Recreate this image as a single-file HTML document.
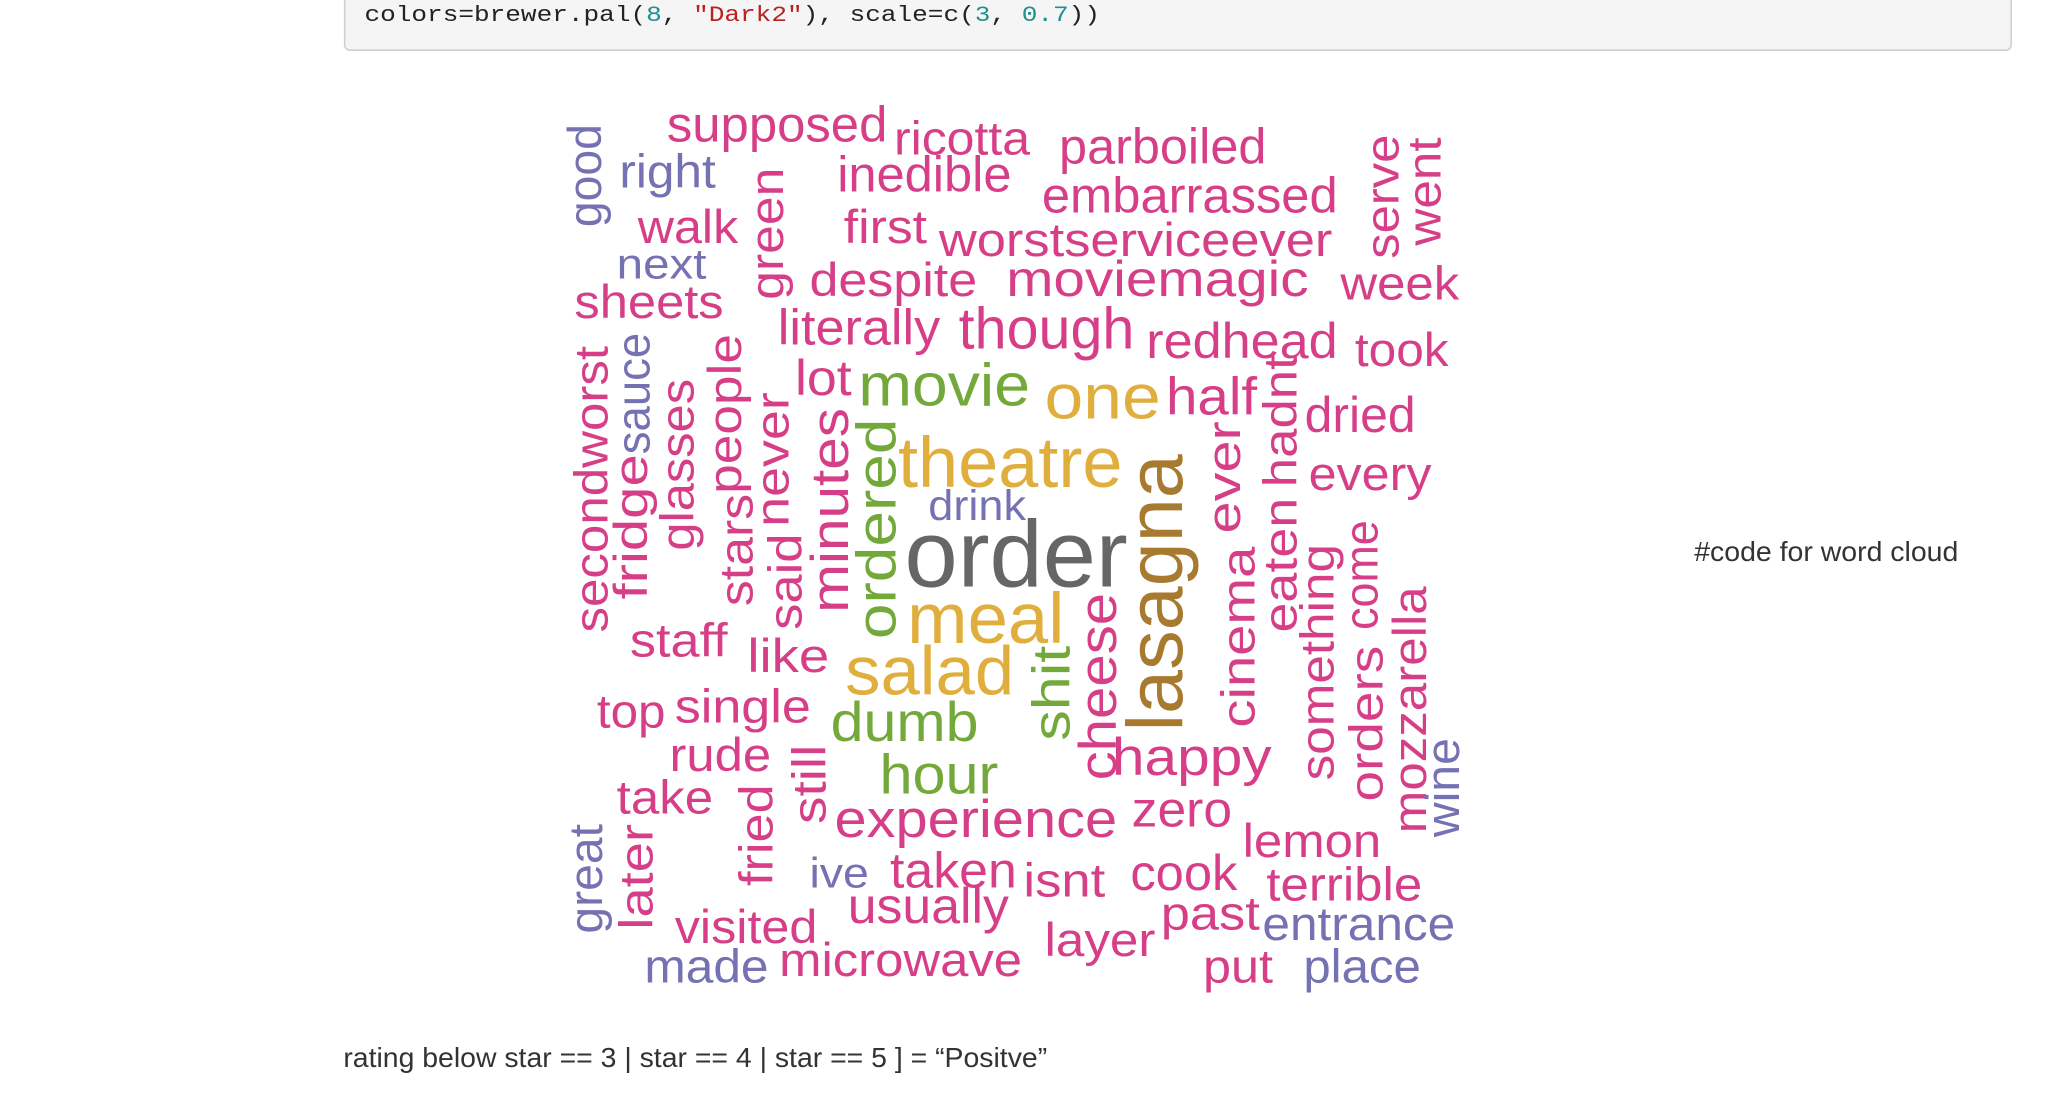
<!DOCTYPE html>
<html><head><meta charset="utf-8"><style>
html,body{margin:0;padding:0;background:#fff;}
svg{display:block;}
text{font-family:"Liberation Sans",Arial,sans-serif;}
.p{fill:#D63F87}.u{fill:#7472B2}.g{fill:#73A83A}.y{fill:#E0AE3C}.b{fill:#A77A2F}.k{fill:#666}
</style></head><body>
<svg width="2060" height="1094" viewBox="0 0 1560 828.5" preserveAspectRatio="none" xmlns="http://www.w3.org/2000/svg">
<rect x="261" y="-10" width="1262" height="48" rx="4" fill="#f5f5f5" stroke="#cfcfcf" stroke-width="1.2"/>
<text x="276" y="16" font-size="17" textLength="557" lengthAdjust="spacingAndGlyphs" style="font-family:'Liberation Mono',monospace" fill="#222">colors=brewer.pal(<tspan fill="#1f8f8f">8</tspan>, <tspan fill="#ba2121">"Dark2"</tspan>), scale=c(<tspan fill="#1f8f8f">3</tspan>, <tspan fill="#1f8f8f">0.7</tspan>))</text>
<text x="1283" y="425" font-size="21" textLength="200" lengthAdjust="spacingAndGlyphs" fill="#333">#code for word cloud</text>
<text x="260" y="808" font-size="21" textLength="533" lengthAdjust="spacingAndGlyphs" fill="#333">rating below star == 3 | star == 4 | star == 5 ] = “Positve”</text>
<g id="wc" transform="translate(-3,-1)"></g>
</svg>
<script>
var H=[
["supposed",508,675,108,38,"p"],["ricotta",680,783,118,36,"p"],["parboiled",805,962,125,38,"p"],
["right",472,545,143,36,"u"],["inedible",637,769,146,38,"p"],["embarrassed",792,1016,162,38,"p"],
["walk",486,562,185,36,"p"],["first",642,705,185,36,"p"],["worstserviceever",714,1012,195,36,"p"],
["next",470,538,212,32,"u"],["despite",616,743,225,36,"p"],["moviemagic",765,994,225,38,"p"],
["week",1018,1108,228,36,"p"],["sheets",438,551,242,36,"p"],["literally",592,715,262,38,"p"],
["though",729,862,265,44,"p"],["redhead",871,1016,272,38,"p"],["took",1029,1100,278,36,"p"],
["lot",605,648,300,38,"p"],["movie",653,783,308,46,"g"],["one",794,882,318,48,"y"],
["half",886,955,315,40,"p"],["dried",991,1075,328,38,"p"],["theatre",683,853,370,54,"y"],
["every",994,1087,372,36,"p"],["drink",706,780,395,32,"u"],["order",688,857,445,72,"k"],
["meal",690,809,488,54,"y"],["staff",480,554,498,36,"p"],["like",569,631,510,36,"p"],
["salad",643,771,527,52,"y"],["top",455,507,552,36,"p"],["single",514,617,548,36,"p"],
["dumb",632,744,562,42,"g"],["rude",510,587,585,36,"p"],["happy",845,966,588,40,"p"],
["hour",669,759,602,42,"g"],["take",470,543,617,36,"p"],["experience",635,849,635,40,"p"],
["zero",860,936,627,38,"p"],["lemon",944,1049,650,36,"p"],["ive",616,661,673,32,"u"],
["taken",677,773,673,38,"p"],["isnt",778,840,680,36,"p"],["cook",859,940,675,38,"p"],
["terrible",962,1080,683,36,"p"],["visited",514,622,715,36,"p"],["usually",645,767,700,38,"p"],
["past",882,957,705,36,"p"],["entrance",959,1105,713,36,"u"],["made",491,585,745,36,"u"],
["microwave",593,777,740,36,"p"],["layer",794,878,725,36,"p"],["put",914,967,745,36,"p"],
["place",990,1079,745,36,"u"]];
var V=[
["good",458,173,95,36,"u"],["green",596,228,128,36,"p"],["serve",1062,197,103,36,"p"],
["went",1094,187,105,36,"p"],["secondworst",463,480,263,36,"p"],["fridge",493,455,345,36,"p"],
["sauce",495,345,253,36,"u"],["glasses",528,418,288,36,"p"],["people",564,375,254,36,"p"],
["stars",573,460,375,36,"p"],["never",600,400,298,36,"p"],["said",610,478,405,36,"p"],
["minutes",645,465,310,40,"p"],["ordered",681,485,318,42,"g"],["lasagna",898,555,345,60,"b"],
["ever",942,405,320,36,"p"],["hadnt",985,370,270,36,"p"],["eaten",985,480,378,36,"p"],
["cinema",953,552,415,36,"p"],["shit",813,562,490,40,"g"],["cheese",848,592,450,40,"p"],
["something",1013,592,413,36,"p"],["come",1046,478,395,36,"p"],["orders",1050,608,490,36,"p"],
["mozzarella",1083,632,445,36,"p"],["wine",1108,635,560,36,"u"],["still",628,625,565,36,"p"],
["fried",588,672,595,36,"p"],["great",459,708,625,36,"u"],["later",497,705,625,36,"p"]];
var NS="http://www.w3.org/2000/svg",g=document.getElementById('wc');
H.forEach(function(w){var t=document.createElementNS(NS,'text');


t.setAttribute('x',w[1]);t.setAttribute('y',w[3]);t.setAttribute('font-size',w[4]);
t.setAttribute('textLength',w[2]-w[1]);t.setAttribute('lengthAdjust','spacingAndGlyphs');
t.setAttribute('class',w[5]);t.textContent=w[0];g.appendChild(t);});
V.forEach(function(w){var t=document.createElementNS(NS,'text');


t.setAttribute('transform','translate('+w[1]+','+w[2]+') rotate(-90)');t.setAttribute('font-size',w[4]);
t.setAttribute('textLength',w[2]-w[3]);t.setAttribute('lengthAdjust','spacingAndGlyphs');
t.setAttribute('class',w[5]);t.textContent=w[0];g.appendChild(t);});
</script>
</body></html>
